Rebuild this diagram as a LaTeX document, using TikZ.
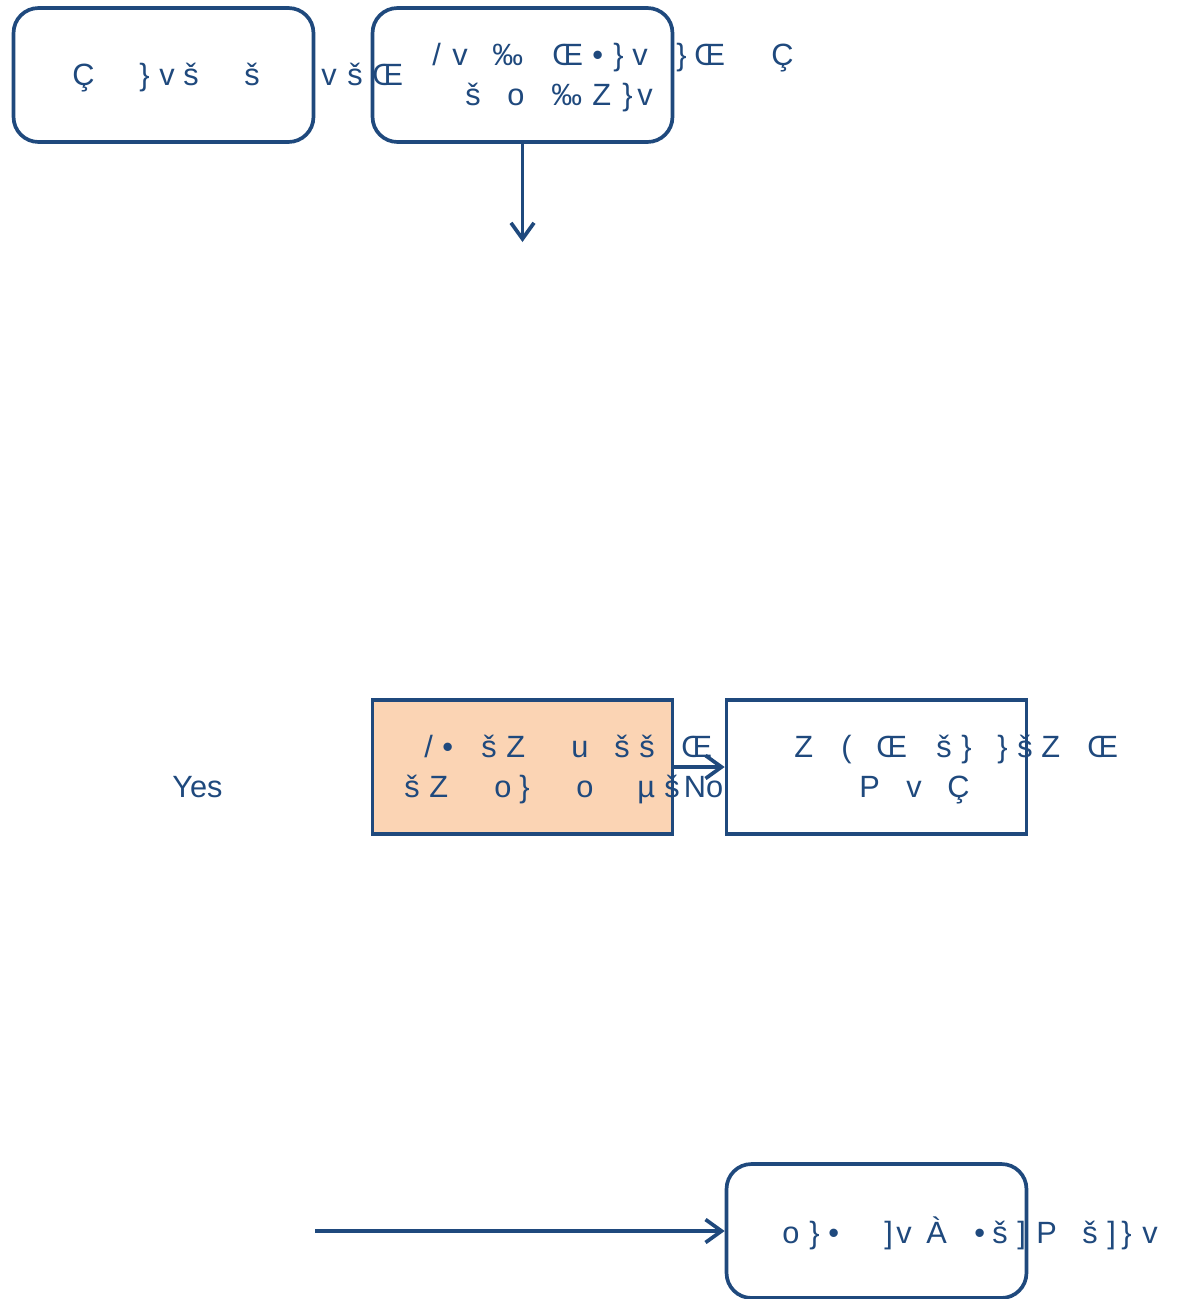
\documentclass[tikz,border=0pt]{standalone}
\usepackage{fontspec}
\setmainfont{Liberation Sans}
\usetikzlibrary{arrows.meta}
\definecolor{flowblue}{RGB}{31,73,125}
\definecolor{flowpeach}{RGB}{251,212,180}
\newdimen\pxu \pxu=0.02cm
\newcommand{\gx}[2]{\makebox[#1\pxu][l]{#2}}
\tikzset{
  box/.style={draw=flowblue, line width=2.1pt, minimum width=6cm, minimum height=2.68cm, inner sep=0pt},
  rbox/.style={box, rounded corners=0.5cm},
  decbox/.style={box, fill=flowpeach},
  txt/.style={text=flowblue, font=\fontsize{17.5}{21}\selectfont, inner sep=0pt, anchor=base west},
  arr/.style={draw=flowblue, line width=2.1pt, -{Straight Barb[length=0.32cm,width=0.46cm]}}
}
\begin{document}
\begin{tikzpicture}[x=0.02cm,y=-0.02cm]
\useasboundingbox (0,0) rectangle (1179,1299);
\node[rbox] (start) at (163.5,75) {};
\node[rbox] (input) at (522.5,75) {};
\node[decbox] (check) at (522.5,767) {};
\node[box] (fail) at (876.5,767) {};
\node[rbox] (done) at (876.5,1231) {};
\coordinate (inputend) at (522.5,242);
\coordinate (loopin) at (315,1231);

\node[txt] (startT) at (72,85) {\gx{67}{Ç}\gx{20}{\}}\gx{24}{v}\gx{61}{š}\gx{77}{š}\gx{26}{v}\gx{25}{š}Œ};
\node[txt] (inputA) at (432,65) {\gx{20}{/}\gx{40}{v}\gx{60}{‰}\gx{40}{Œ}\gx{21}{•}\gx{19}{\}}\gx{44}{v}\gx{18}{\}}\gx{77}{Œ}Ç};
\node[txt] (inputB) at (465,105) {\gx{42}{š}\gx{44}{o}\gx{41}{‰}\gx{30}{Z}\gx{15}{\}}v};
\node[txt] (checkA) at (424,757) {\gx{18}{/}\gx{39}{•}\gx{25}{š}\gx{65}{Z}\gx{43}{u}\gx{25}{š}\gx{42}{š}Œ};
\node[txt] (checkB) at (404,797) {\gx{25}{š}\gx{65}{Z}\gx{25}{o}\gx{57}{\}}\gx{61}{o}\gx{27}{µ}š};
\node[txt] (failA) at (794,757) {\gx{47}{Z}\gx{35}{(}\gx{60}{Œ}\gx{25}{š}\gx{36}{\}}\gx{20}{\}}\gx{24}{š}\gx{46}{Z}Œ};
\node[txt] (failB) at (859,797) {\gx{47}{P}\gx{41}{v}Ç};
\node[txt] (doneT) at (782,1243) {\gx{27}{o}\gx{19}{\}}\gx{56}{•}\gx{12}{]}\gx{30}{v}\gx{48}{À}\gx{18}{•}\gx{25}{š}\gx{19}{]}\gx{46}{P}\gx{25}{š}\gx{14}{]}\gx{21}{\}}v};
\node[txt] (yes) at (172,797) {Yes};

\draw[arr] (input) -- (inputend);
\draw[arr] (check) -- (fail) node[txt, anchor=base west] (no) at (682,797) {No};
\draw[arr] (loopin) -- (done);
\end{tikzpicture}
\end{document}
